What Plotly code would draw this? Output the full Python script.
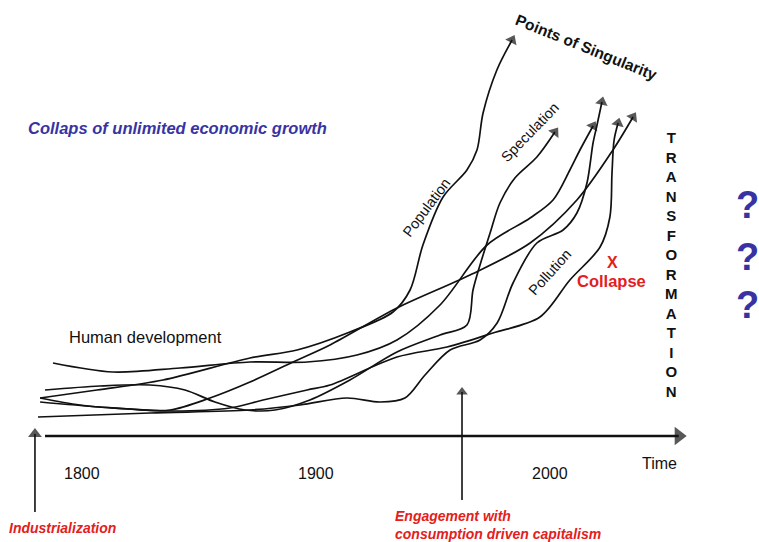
import plotly.graph_objects as go

# Zeitachse (Jahr) und frei gewähltes Niveau (keine Einheit)
TICK_YEARS = [1800, 1900, 2000]

# Kurven: Jahr / Niveau, von links nach rechts
pop_x = [1782.1, 1806.4, 1834.6, 1871.8, 1891.9, 1914.5, 1932.9, 1940.2, 1945.7, 1954.3,
         1964.5, 1968.8, 1971.4, 1977.3, 1983.8]
pop_y = [9.5, 11.5, 14, 19.5, 21.5, 26, 31, 36.5, 47.75, 59.75, 66.5, 71.5, 80.75, 91.5, 99]

spec_x = [1784.2, 1807.7, 1829.1, 1844.0, 1856.8, 1869.7, 1882.5, 1897.4, 1914.5, 1934.6,
          1953.0, 1964.5, 1967.1, 1970.1, 1974.4, 1978.6, 1985.0, 1994.4, 2002.1]
spec_y = [11.5, 12.5, 12.75, 11.5, 8.5, 6.5, 6.5, 9, 14, 21, 25.25, 27.75, 36.5, 42.75,
          50.75, 58.25, 64.5, 69.75, 76]

human_x = [1787.6, 1813.2, 1841.9, 1871.8, 1896.2, 1917.5, 1934.6, 1953.0, 1973.1, 1991.5,
           2001.3, 2008.5, 2012.8, 2018.4]
human_y = [18.25, 16, 17, 18.5, 18.5, 20.25, 24, 32.75, 47.75, 54.5, 59, 66.5, 71.5, 77.5]

diag_x = [1782.1, 1799.1, 1820.5, 1837.6, 1854.7, 1871.8, 1890.2, 1906.0, 1934.6, 1965.8,
          1991.5, 2011.5, 2026.9, 2035.5]
diag_y = [9.5, 7.75, 6.75, 6.5, 9.5, 13.5, 18.5, 22.75, 32, 40.25, 48.25, 59, 71.5, 79.75]

poll_x = [1782.1, 1807.7, 1837.6, 1863.2, 1877.4, 1896.2, 1906.0, 1934.6, 1956.0, 1975.6,
          1995.7, 2008.5, 2021.4, 2025.6, 2026.5, 2027.4, 2029.1]
poll_y = [8.5, 7.25, 6.25, 7, 9, 11.5, 12.75, 19.75, 22.25, 25.75, 29.75, 39, 47.25, 54.75,
          65.75, 74, 78.25]

low_x = [1781.2, 1829.1, 1871.8, 1893.2, 1913.2, 1927.4, 1938.0, 1946.6, 1957.3, 1970.1,
         1977.4, 1984.2, 1994.4, 2005.6, 2011.5, 2015.8, 2018.4, 2020.1, 2022.2]
low_y = [4.75, 5.75, 6.5, 7.75, 9.5, 8.5, 9.5, 15.25, 21.5, 24, 28.25, 38.25, 48.25, 51.5,
         55.75, 63.25, 73.25, 77.75, 83.5]

curves = [(pop_x, pop_y), (spec_x, spec_y), (human_x, human_y),
          (diag_x, diag_y), (poll_x, poll_y), (low_x, low_y)]

# Pfeile: Zeitachse, Industrialisierung, Konsum-Kapitalismus
axis_x, axis_y = [1784.2, 2055.0], [0, 0]
indus_x, indus_y = [1779.9, 1779.9], [-19, 0.5]
engage_x, engage_y = [1962.4, 1962.4], [-16, 11]

question_levels = [57.75, 44.75, 32.75]

BLACK = "#111111"
RED = "#e3201b"
BLUE = "#3833a3"
FONT = "Liberation Sans, Arial, sans-serif"

fig = go.Figure()


def add_arrow(x, y, width=1.7, head=11, smooth=True):
    fig.add_trace(
        go.Scatter(
            x=x,
            y=y,
            mode="lines+markers",
            line=dict(color=BLACK, width=width,
                      shape="spline" if smooth else "linear", smoothing=0.9),
            marker=dict(symbol="triangle-up", angleref="previous", color=BLACK,
                        size=[0] * (len(x) - 1) + [head],
                        line=dict(width=0)),
            hoverinfo="skip",
        )
    )


for cx, cy in curves:
    add_arrow(cx, cy)

add_arrow(axis_x, axis_y, width=2.4, head=16, smooth=False)
add_arrow(indus_x, indus_y, width=1.6, head=12, smooth=False)
add_arrow(engage_x, engage_y, width=1.6, head=10, smooth=False)

ann = []


def label(x, y, text, size=14, color=BLACK, angle=0, xanchor="center", bold=False,
          italic=False, align="center"):
    t = text
    if bold:
        t = f"<b>{t}</b>"
    if italic:
        t = f"<i>{t}</i>"
    ann.append(dict(x=x, y=y, text=t, showarrow=False, textangle=angle,
                    xanchor=xanchor, yanchor="middle", align=align,
                    font=dict(family=FONT, size=size, color=color)))


label(1776.1, 77, "Collaps of unlimited economic growth", 16.5, BLUE, xanchor="left",
      bold=True, italic=True)
label(1793.6, 24.75, "Human development", 16.5, xanchor="left")
label(2015.8, 97.25, "Points of Singularity", 15.5, angle=22, bold=True)
label(1991.5, 76, "Speculation", 14.5, angle=-46)
label(1947.4, 57.25, "Population", 14.5, angle=-53)
label(2000.0, 41, "Pollution", 14.5, angle=-48)
label(2026.5, 43.5, "X", 16, RED, bold=True)
label(2026.1, 38.75, "Collapse", 16.5, RED, bold=True)
label(2052.1, 42.9, "<br>".join("TRANSFORMATION"), 15, bold=True)
for lv in question_levels:
    label(2084.2, lv, "?", 38, BLUE, bold=True)
for yr in TICK_YEARS:
    label(yr, -9.25, str(yr), 16)
label(2047.0, -6.75, "Time", 16)
label(1768.0, -23, "Industrialization", 14, RED, xanchor="left", bold=True, italic=True)
label(1932.9, -22.25, "Engagement with<br>consumption driven capitalism", 14, RED,
      xanchor="left", bold=True, italic=True, align="left")

fig.update_layout(
    width=759,
    height=542,
    margin=dict(l=0, r=0, t=0, b=0),
    paper_bgcolor="white",
    plot_bgcolor="white",
    showlegend=False,
    xaxis=dict(range=[1764.96, 2089.32], visible=False, fixedrange=True),
    yaxis=dict(range=[-26.5, 109], visible=False, fixedrange=True),
    annotations=ann,
)

# Seitenrand weg, damit die Grafik genau ins Fenster passt
fig.write_html("out.html", config={"displayModeBar": False},
               post_script="document.body.style.margin='0';")
